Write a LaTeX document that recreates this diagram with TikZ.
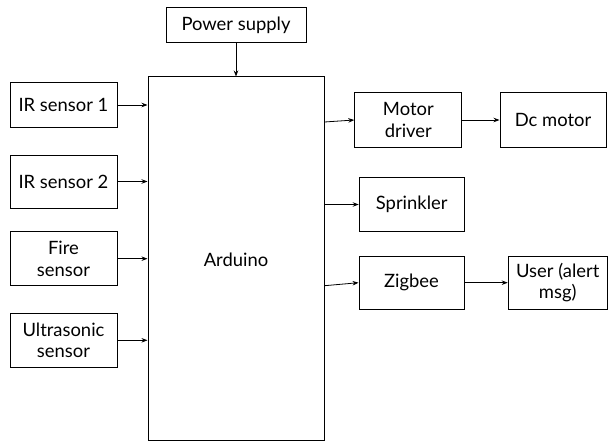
\documentclass[tikz,border=0pt]{standalone}
\usepackage{fontspec}
\setmainfont{Lato}
\usetikzlibrary{arrows.meta}
\begin{document}
\begin{tikzpicture}[x=1pt,y=-1pt,
  blk/.style={draw, line width=1pt, inner sep=0pt, align=center,
    font=\fontsize{18.4}{21.5}\selectfont},
  conn/.style={line width=0.8pt, -{Stealth[length=6pt,width=4.5pt]}}]
\useasboundingbox (0,0) rectangle (609,441);
\node[blk, minimum width=140pt, minimum height=35pt] (ps) at (236,25.5) {Power supply};
\node[blk, minimum width=176pt, minimum height=363pt] (ard) at (236,258.5) {};
\node[font=\fontsize{18.4}{21.5}\selectfont] (ardt) at (236,260) {Arduino};
\node[blk, minimum width=107pt, minimum height=44pt] (ir1) at (63.5,105) {IR sensor 1};
\node[blk, minimum width=107pt, minimum height=53pt] (ir2) at (63.5,181.5) {IR sensor 2};
\node[blk, minimum width=107pt, minimum height=54pt] (fire) at (63.5,258.7) {Fire\\sensor};
\node[blk, minimum width=107pt, minimum height=54pt] (ultra) at (63.5,340.3) {Ultrasonic\\sensor};
\node[blk, minimum width=107pt, minimum height=54.6pt] (md) at (408.3,120) {Motor\\driver};
\node[blk, minimum width=106pt, minimum height=54pt] (dc) at (553,120) {Dc motor};
\node[blk, minimum width=105pt, minimum height=54.4pt] (spr) at (411.7,204.5) {Sprinkler};
\node[blk, minimum width=105pt, minimum height=53.3pt] (zig) at (411.5,282.7) {Zigbee};
\node[blk, minimum width=99pt, minimum height=53pt] (user) at (557.7,282.7) {User (alert\\msg)};
\draw[conn] (ps.south) -- (ard.north);
\draw[conn] (ir1.east) -- (ir1.east -| ard.west);
\draw[conn] (ir2.east) -- (ir2.east -| ard.west);
\draw[conn] (fire.east) -- (fire.east -| ard.west);
\draw[conn] (ultra.east) -- (ultra.east -| ard.west);
\draw[conn] ([yshift=-2pt]md.west -| ard.east) -- (md.west);
\draw[conn] (spr.west -| ard.east) -- (spr.west);
\draw[conn] ([yshift=-3pt]zig.west -| ard.east) -- (zig.west);
\draw[conn] (md.east) -- (dc.west);
\draw[conn] (zig.east) -- (user.west);
\end{tikzpicture}
\end{document}
